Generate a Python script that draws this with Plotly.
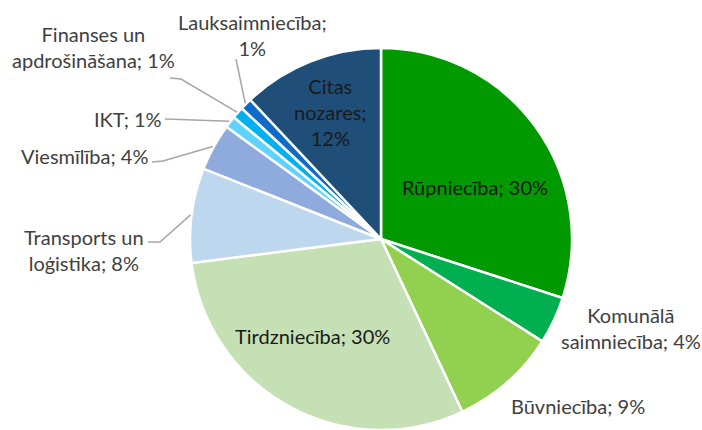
import math
import plotly.graph_objects as go

# Sector shares, clockwise from 12 o'clock
sectors = ["Rūpniecība", "Komunālā saimniecība", "Būvniecība", "Tirdzniecība",
           "Transports un loģistika", "Viesmīlība", "IKT", "Finanses un apdrošināšana",
           "Lauksaimniecība", "Citas nozares"]
shares = [30, 4, 9, 30, 8, 4, 1, 1, 1, 12]
colors = ["#009900", "#00B050", "#92D050", "#C5E0B4", "#BDD7EE",
          "#8FAADC", "#5FD3FF", "#00B0F0", "#0F6BC8", "#1F4E79"]

# Label text shown for each sector (line breaks as drawn)
label_texts = ["Rūpniecība; 30%", "Komunālā<br>saimniecība; 4%", "Būvniecība; 9%",
               "Tirdzniecība; 30%", "Transports un<br>loģistika; 8%", "Viesmīlība; 4%",
               "IKT; 1%", "Finanses un<br>apdrošināšana; 1%", "Lauksaimniecība;<br>1%",
               "Citas<br>nozares;<br>12%"]
inside = [True, False, False, True, False, False, False, False, False, True]

W, H = 702, 430
CX, CY, R = 381, 239, 191

# label centres in pixels
label_pos = [(475, 187), (631, 328), (578, 406), (312, 336), (84, 250),
             (84, 156), (128, 119), (93, 47), (253, 35), (330, 112)]
# where each leader line leaves the label (None = no leader)
leader_start = [None, None, None, None, [(148, 242), (160, 242)],
                [(152, 162), (163, 161)], [(165, 119)], [(170, 78), (181, 79)],
                [(236, 59)], None]


def px(x, y):
    return x / W, 1 - y / H


fig = go.Figure(go.Pie(
    labels=sectors,
    values=shares,
    sort=False,
    direction="clockwise",
    rotation=0,
    marker=dict(colors=colors, line=dict(color="white", width=2.5)),
    textinfo="none",
    hoverinfo="label+percent",
    showlegend=False,
    domain=dict(x=[(CX - R) / W, (CX + R) / W], y=[0, 2 * R / H]),
))

total = sum(shares)
cum = 0
shapes = []
for i, v in enumerate(shares):
    mid = (cum + v / 2) / total * 2 * math.pi
    cum += v
    if leader_start[i]:
        ex = CX + (R + 1) * math.sin(mid)
        ey = CY - (R + 1) * math.cos(mid)
        pts = leader_start[i] + [(ex, ey)]
        path = "M " + " L ".join(f"{px(a, b)[0]:.5f},{px(a, b)[1]:.5f}" for a, b in pts)
        shapes.append(dict(type="path", xref="paper", yref="paper", path=path,
                           line=dict(color="#A6A6A6", width=1.5)))

annotations = []
for t, (x, y), ins in zip(label_texts, label_pos, inside):
    ax, ay = px(x, y)
    annotations.append(dict(text=t, x=ax, y=ay, xref="paper", yref="paper",
                            xanchor="center", yanchor="middle", showarrow=False,
                            align="center",
                            font=dict(family="Lato", size=20,
                                      color="#1A1A1A" if ins else "#404040")))

fig.update_layout(
    width=W, height=H,
    margin=dict(l=0, r=0, t=0, b=0),
    paper_bgcolor="white",
    plot_bgcolor="white",
    shapes=shapes,
    annotations=annotations,
)

fig.write_html("out.html")
